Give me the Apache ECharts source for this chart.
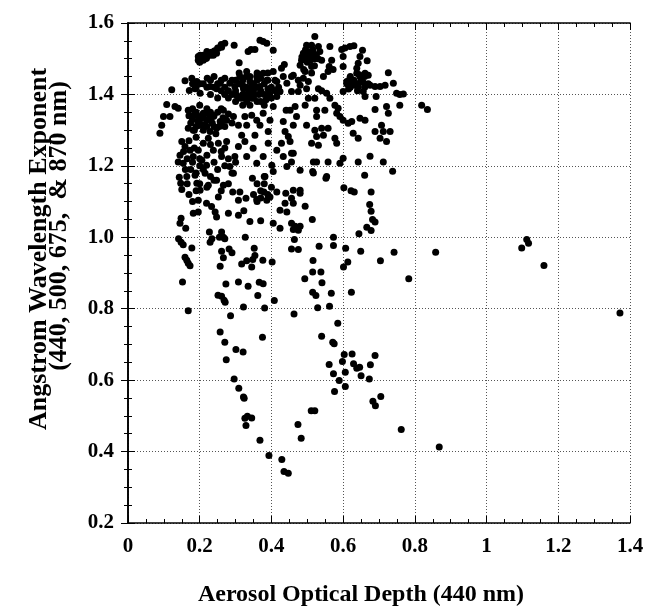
<!DOCTYPE html>
<html>
<head>
<meta charset="utf-8">
<script src="https://cdn.jsdelivr.net/npm/echarts@6/dist/echarts.min.js"></script>
<style>
html,body{margin:0;padding:0;background:#fff;}
#chart{width:647px;height:606px;}
</style>
</head>
<body>
<div id="chart"></div>
<script>
// Tick labels
const xTickLabels = ['0', '0.2', '0.4', '0.6', '0.8', '1', '1.2', '1.4'];
const yTickLabels = ['0.2', '0.4', '0.6', '0.8', '1.0', '1.2', '1.4', '1.6'];
const xTitle = 'Aerosol Optical Depth (440 nm)';
const yTitleLine1 = 'Angstrom Wavelength Exponent';
const yTitleLine2 = '(440, 500, 675,  & 870 nm)';

// Observations: [aerosol optical depth (440 nm), Angstrom exponent]
const farPoints = [
  [1.372,0.788],[1.098,0.970],[1.112,0.994],[1.117,0.983],[1.160,0.921]
];
const lowPoints = [
  [0.540,0.723],[0.571,0.706],[0.575,0.702],[0.603,0.672],[0.625,0.673],[0.598,0.652],[0.561,0.644],
  [0.629,0.646],[0.638,0.633],[0.646,0.636],[0.689,0.669],[0.676,0.643],[0.573,0.618],[0.606,0.622],
  [0.650,0.612],[0.589,0.599],[0.673,0.603],[0.606,0.582],[0.576,0.568],[0.705,0.554],[0.683,0.541],
  [0.690,0.528],[0.511,0.514],[0.521,0.514],[0.474,0.476],[0.483,0.437],[0.762,0.462],[0.868,0.413],
  [0.257,0.735],[0.375,0.720],[0.270,0.706],[0.301,0.686],[0.321,0.679],[0.274,0.657],[0.296,0.603],
  [0.309,0.577],[0.322,0.553],[0.324,0.549],[0.333,0.499],[0.326,0.493],[0.345,0.494],[0.329,0.473],
  [0.368,0.432],[0.393,0.389],[0.429,0.378],[0.435,0.344],[0.447,0.339]
];
const midPoints = [
  [0.148,1.053],[0.145,1.039],[0.161,1.025],[0.141,0.996],[0.148,0.986],[0.154,0.979],[0.178,0.970],
  [0.159,0.944],[0.164,0.936],[0.168,0.927],[0.173,0.920],[0.152,0.875],[0.168,0.794],[0.227,1.015],
  [0.234,0.996],[0.229,0.986],[0.255,1.000],[0.266,1.000],[0.261,1.015],[0.270,0.996],[0.327,1.000],
  [0.261,0.961],[0.282,0.967],[0.290,0.957],[0.266,0.943],[0.257,0.919],[0.352,0.969],[0.354,0.949],
  [0.348,0.938],[0.331,0.934],[0.317,0.925],[0.345,0.917],[0.376,0.936],[0.402,0.931],[0.273,0.869],
  [0.308,0.875],[0.335,0.863],[0.366,0.874],[0.377,0.870],[0.251,0.838],[0.261,0.835],[0.268,0.824],
  [0.271,0.818],[0.362,0.837],[0.408,0.823],[0.322,0.805],[0.381,0.802],[0.463,0.785],[0.286,0.780],
  [0.660,1.174],[0.738,1.185],[0.552,1.165],[0.515,1.184],[0.602,1.139],[0.622,1.130],[0.631,1.127],
  [0.678,1.127],[0.674,1.092],[0.678,1.073],[0.682,1.050],[0.689,1.043],[0.666,1.028],[0.678,1.019],
  [0.644,1.010],[0.573,1.000],[0.573,0.977],[0.607,0.969],[0.649,0.961],[0.742,0.958],[0.858,0.958],
  [0.704,0.934],[0.613,0.931],[0.601,0.917],[0.783,0.884],[0.533,0.975],[0.516,0.935],[0.515,0.903],
  [0.538,0.903],[0.493,0.884],[0.541,0.873],[0.515,0.846],[0.524,0.837],[0.567,0.843],[0.623,0.846],
  [0.529,0.803],[0.562,0.807],[0.585,0.759],[0.464,0.994],[0.456,0.967],[0.475,0.966],[0.480,1.132],
  [0.480,1.123],[0.456,1.109],[0.461,1.095],[0.494,1.087],[0.514,1.050],[0.456,1.039],[0.466,1.031],
  [0.480,1.031],[0.475,1.020],[0.461,1.022],
  [0.143,1.168],[0.147,1.151],[0.150,1.134],[0.164,1.170],[0.187,1.174],[0.192,1.151],[0.201,1.132],
  [0.196,1.104],[0.219,1.095],[0.233,1.086],[0.243,1.071],[0.247,1.057],[0.182,1.067],[0.196,1.071],
  [0.224,1.146],[0.247,1.160],[0.252,1.113],[0.266,1.146],[0.280,1.067],[0.308,1.062],[0.323,1.074],
  [0.292,1.127],[0.312,1.127],[0.308,1.104],[0.329,1.109],[0.340,1.044],[0.370,1.046],[0.347,1.165],
  [0.359,1.106],[0.379,1.127],[0.387,1.104],[0.396,1.113],[0.405,1.039],[0.424,1.025],[0.424,1.076],
  [0.438,1.095],[0.443,1.071],[0.415,1.127],[0.440,1.123],[0.461,1.132],[0.382,1.170],[0.405,1.184],
  [0.294,1.179],[0.215,1.179],
  [0.36,1.15],[0.37,1.13],[0.38,1.15],[0.39,1.12],[0.37,1.11],[0.35,1.12],[0.38,1.17],[0.40,1.14],[0.36,1.10],
  [0.165,1.15],[0.17,1.12],[0.18,1.10],[0.19,1.13]
];
const highPoints = [
  [0.196,1.506],[0.201,1.510],[0.205,1.499],[0.215,1.504],[0.224,1.513],[0.233,1.518],[0.242,1.522],
  [0.252,1.529],[0.270,1.543],[0.196,1.496],[0.210,1.496],[0.219,1.501],[0.238,1.510],[0.247,1.515],
  [0.261,1.532],[0.296,1.538],[0.335,1.520],[0.343,1.526],[0.354,1.526],[0.368,1.552],[0.377,1.548],
  [0.387,1.543],[0.405,1.524],[0.310,1.489],[0.436,1.484],[0.461,1.454],
  [0.21,1.51],[0.22,1.52],[0.23,1.51],[0.24,1.52],[0.25,1.53],[0.26,1.54],[0.20,1.49],[0.215,1.50],
  [0.159,1.438],[0.178,1.445],[0.192,1.436],[0.201,1.430],[0.122,1.413],[0.171,1.411],[0.187,1.416],
  [0.201,1.403],[0.221,1.445],[0.229,1.422],[0.247,1.416],[0.257,1.431],[0.270,1.445],[0.284,1.431],
  [0.298,1.422],[0.312,1.450],[0.322,1.416],[0.331,1.464],[0.340,1.436],[0.349,1.403],[0.359,1.450],
  [0.368,1.422],[0.377,1.459],[0.387,1.440],[0.396,1.416],[0.405,1.464],[0.415,1.436],[0.428,1.473],
  [0.433,1.450],[0.443,1.431],[0.456,1.450],[0.303,1.398],[0.317,1.389],[0.331,1.380],[0.345,1.389],
  [0.322,1.400],[0.336,1.405],[0.424,1.408],[0.466,1.366],[0.441,1.356],[0.405,1.366],[0.415,1.394],
  [0.30,1.41],[0.31,1.43],[0.32,1.44],[0.33,1.42],[0.34,1.41],[0.35,1.43],[0.36,1.44],[0.37,1.41],
  [0.38,1.43],[0.39,1.44],[0.33,1.39],[0.35,1.39],[0.37,1.38],[0.34,1.45],[0.36,1.46],[0.38,1.40],
  [0.40,1.42],[0.41,1.44],[0.32,1.40],[0.36,1.42],[0.39,1.46],[0.42,1.42],[0.31,1.39],
  [0.23,1.40],[0.25,1.39],[0.26,1.41],[0.27,1.42],[0.24,1.42],
  [0.18,1.43],[0.19,1.42],[0.21,1.43],[0.22,1.42],[0.23,1.44],[0.24,1.45],[0.25,1.43],[0.26,1.44],
  [0.27,1.40],[0.28,1.41],[0.29,1.44],[0.28,1.39],[0.29,1.40],[0.30,1.44],[0.31,1.46],[0.30,1.38],
  [0.32,1.37],[0.34,1.37],[0.36,1.38],[0.38,1.37],[0.40,1.39],[0.41,1.41],[0.39,1.415],[0.35,1.41],
  [0.37,1.445],[0.33,1.45],[0.32,1.425],[0.345,1.425],[0.365,1.40],[0.385,1.385],[0.395,1.40],
  [0.108,1.372],[0.099,1.338],[0.117,1.338],[0.131,1.366],[0.140,1.361],[0.094,1.314],[0.089,1.291],
  [0.168,1.356],[0.182,1.342],[0.196,1.338],[0.210,1.347],[0.219,1.328],[0.201,1.314],[0.238,1.338],
  [0.257,1.324],[0.275,1.328],[0.247,1.305],[0.266,1.356],[0.294,1.338],[0.308,1.314],[0.326,1.338],
  [0.345,1.342],[0.359,1.328],[0.331,1.314],[0.368,1.314],[0.377,1.347],[0.396,1.328],[0.391,1.296],
  [0.433,1.324],[0.438,1.296],[0.447,1.282],[0.461,1.314],[0.452,1.356],
  [0.17,1.34],[0.18,1.33],[0.19,1.35],[0.20,1.32],[0.21,1.34],[0.22,1.36],[0.23,1.33],[0.24,1.31],
  [0.25,1.35],[0.26,1.32],[0.19,1.31],[0.21,1.30],[0.23,1.35],[0.18,1.36],[0.20,1.37],[0.22,1.31],
  [0.24,1.34],[0.26,1.36],
  [0.175,1.32],[0.185,1.30],[0.195,1.325],[0.205,1.335],[0.215,1.315],[0.225,1.345],[0.235,1.32],
  [0.245,1.29],[0.255,1.31],[0.265,1.335],[0.27,1.31],[0.28,1.345],[0.29,1.32],
  [0.150,1.268],[0.168,1.305],[0.182,1.300],[0.159,1.254],[0.173,1.244],[0.145,1.230],[0.140,1.211],
  [0.154,1.207],[0.182,1.226],[0.196,1.244],[0.210,1.263],[0.224,1.277],[0.238,1.244],[0.252,1.263],
  [0.261,1.226],[0.275,1.268],[0.206,1.216],[0.219,1.202],[0.284,1.198],[0.298,1.226],[0.308,1.254],
  [0.326,1.268],[0.331,1.226],[0.349,1.249],[0.359,1.207],[0.377,1.226],[0.391,1.263],[0.401,1.202],
  [0.415,1.244],[0.433,1.226],[0.443,1.198],[0.456,1.235],[0.428,1.263],[0.354,1.286],[0.317,1.286],
  [0.229,1.296],
  [0.18,1.21],[0.19,1.18],[0.20,1.22],[0.21,1.19],[0.22,1.23],[0.23,1.17],[0.24,1.21],[0.25,1.19],
  [0.26,1.24],[0.27,1.20],[0.28,1.22],[0.29,1.18],[0.20,1.15],[0.22,1.14],[0.24,1.16],[0.26,1.13],
  [0.28,1.15],[0.30,1.21],[0.27,1.25],[0.23,1.26],
  [0.155,1.24],[0.165,1.22],[0.17,1.27],[0.175,1.19],[0.16,1.19],[0.185,1.25],[0.19,1.28],[0.20,1.20]
];
const rightClusterPoints = [
  [0.521,1.562],[0.498,1.538],[0.512,1.538],[0.531,1.534],[0.489,1.515],[0.503,1.515],[0.517,1.515],
  [0.535,1.520],[0.563,1.534],[0.484,1.496],[0.508,1.496],[0.521,1.500],[0.540,1.496],[0.568,1.496],
  [0.596,1.526],[0.605,1.530],[0.619,1.534],[0.630,1.536],[0.654,1.524],[0.600,1.506],[0.647,1.506],
  [0.667,1.494],[0.642,1.487],[0.480,1.482],[0.512,1.478],[0.561,1.478],[0.572,1.470],[0.600,1.478],
  [0.638,1.473],[0.494,1.464],[0.512,1.460],[0.558,1.464],[0.545,1.450],[0.475,1.440],[0.489,1.445],
  [0.503,1.436],[0.480,1.426],[0.456,1.408],[0.475,1.408],[0.498,1.416],[0.503,1.389],[0.531,1.416],
  [0.540,1.410],[0.554,1.403],[0.563,1.389],[0.521,1.389],[0.600,1.408],[0.610,1.436],[0.619,1.445],
  [0.628,1.431],[0.638,1.459],[0.647,1.450],[0.661,1.459],[0.670,1.454],[0.642,1.422],[0.656,1.408],
  [0.661,1.394],[0.675,1.426],[0.689,1.422],[0.703,1.422],[0.717,1.426],[0.726,1.461],[0.740,1.431],
  [0.692,1.394],[0.749,1.403],[0.758,1.400],[0.768,1.401],[0.758,1.370],[0.819,1.370],[0.835,1.358],
  [0.494,1.370],[0.526,1.356],[0.549,1.356],[0.577,1.370],[0.586,1.361],[0.582,1.347],[0.591,1.338],
  [0.600,1.328],[0.614,1.319],[0.624,1.324],[0.526,1.338],[0.470,1.338],[0.647,1.333],[0.661,1.328],
  [0.689,1.358],[0.721,1.366],[0.726,1.347],[0.498,1.314],[0.521,1.300],[0.540,1.305],[0.558,1.305],
  [0.545,1.286],[0.526,1.282],[0.577,1.277],[0.582,1.263],[0.628,1.291],[0.642,1.277],[0.689,1.296],
  [0.707,1.314],[0.712,1.296],[0.731,1.296],[0.721,1.268],[0.703,1.277],[0.512,1.263],[0.531,1.258],
  [0.517,1.211],[0.526,1.211],[0.558,1.211],[0.600,1.221],[0.591,1.207],[0.642,1.211],[0.675,1.227],
  [0.712,1.211],[0.452,1.268],[0.461,1.235],[0.456,1.211],[0.480,1.188],[0.517,1.180],[0.554,1.170],
  [0.61,1.43],[0.62,1.42],[0.63,1.44],[0.64,1.43],[0.65,1.44],[0.66,1.42],[0.62,1.45],[0.64,1.41],
  [0.66,1.45],[0.67,1.43],[0.615,1.415],[0.635,1.425],[0.655,1.435],[0.625,1.44],[0.645,1.455],
  [0.49,1.50],[0.50,1.49],[0.51,1.51],[0.52,1.48],[0.50,1.52],[0.53,1.50],[0.49,1.47],
  [0.495,1.525],[0.515,1.525],[0.525,1.51],[0.505,1.505],[0.485,1.505]
];

const observations = [].concat(farPoints, lowPoints, midPoints, highPoints, rightClusterPoints);

const serif = '"Liberation Serif", "Times New Roman", serif';
const tickLabelStyle = { fontFamily: serif, fontWeight: 'bold', fontSize: 21, color: '#000' };

function xLabel(v) { return xTickLabels[Math.round(v / 0.2)]; }
function yLabel(v) { return yTickLabels[Math.round((v - 0.2) / 0.2)]; }

const axisLineStyle = { show: true, lineStyle: { color: '#000', width: 1.6 } };
const tickStyle = { show: true, inside: true, length: 7, lineStyle: { color: '#000', width: 1 } };
const minorStyle = { show: true, splitNumber: 4, length: 4, lineStyle: { color: '#000', width: 1 } };
const gridLine = { show: true, lineStyle: { color: '#555', type: [1, 2], width: 1 } };

const chart = echarts.init(document.getElementById('chart'), null, { renderer: 'canvas' });
chart.setOption({
  animation: false,
  backgroundColor: '#fff',
  grid: { left: 128, right: 17, top: 23, bottom: 83, containLabel: false, outerBoundsMode: 'none' },
  xAxis: [
    {
      type: 'value', min: 0, max: 1.4, interval: 0.2, position: 'bottom',
      axisLine: axisLineStyle, axisTick: tickStyle, minorTick: minorStyle, splitLine: gridLine,
      axisLabel: Object.assign({ margin: 13, formatter: xLabel }, tickLabelStyle),
      name: xTitle, nameLocation: 'middle', nameGap: 60,
      nameTextStyle: { fontFamily: serif, fontWeight: 'bold', fontSize: 24, color: '#000', padding: [0, 36, 0, 0] }
    },
    {
      type: 'value', min: 0, max: 1.4, interval: 0.2, position: 'top',
      axisLine: axisLineStyle, axisTick: tickStyle, minorTick: minorStyle,
      splitLine: { show: false }, axisLabel: { show: false }
    }
  ],
  yAxis: [
    {
      type: 'value', min: 0.2, max: 1.6, interval: 0.2, position: 'left',
      axisLine: axisLineStyle, axisTick: tickStyle, minorTick: minorStyle, splitLine: gridLine,
      axisLabel: Object.assign({ margin: 14, formatter: yLabel }, tickLabelStyle)
    },
    {
      type: 'value', min: 0.2, max: 1.6, interval: 0.2, position: 'right',
      axisLine: axisLineStyle, axisTick: tickStyle, minorTick: minorStyle,
      splitLine: { show: false }, axisLabel: { show: false }
    }
  ],
  graphic: [
    {
      type: 'text', x: 39, y: 249, rotation: Math.PI / 2,
      style: { text: yTitleLine1, font: 'bold 26px ' + serif, fill: '#000',
               align: 'center', verticalAlign: 'middle', textAlign: 'center', textVerticalAlign: 'middle' }
    },
    {
      type: 'text', x: 59, y: 226, rotation: Math.PI / 2,
      style: { text: yTitleLine2, font: 'bold 26px ' + serif, fill: '#000',
               align: 'center', verticalAlign: 'middle', textAlign: 'center', textVerticalAlign: 'middle' }
    }
  ],
  series: [
    {
      type: 'scatter', xAxisIndex: 0, yAxisIndex: 0,
      data: observations, symbol: 'circle', symbolSize: 7,
      itemStyle: { color: '#000', opacity: 1 }, silent: true
    }
  ]
});
</script>
</body>
</html>
